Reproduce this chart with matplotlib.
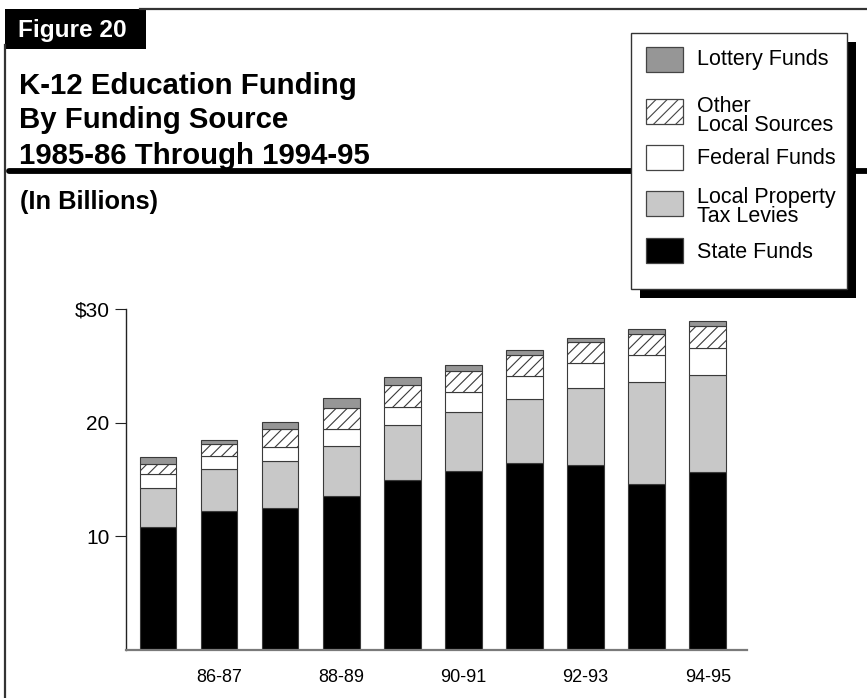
import numpy as np
import matplotlib
matplotlib.use("Agg")
import matplotlib.pyplot as plt
from matplotlib.patches import Rectangle
from matplotlib.lines import Line2D

plt.rcParams['font.family'] = ['Liberation Sans', 'DejaVu Sans']
plt.rcParams['hatch.linewidth'] = 0.8
plt.rcParams['hatch.color'] = '#202020'

# ---- data (billions of dollars) ----
years = ["85-86", "86-87", "87-88", "88-89", "89-90",
         "90-91", "91-92", "92-93", "93-94", "94-95"]
state_funds = [10.8, 12.2, 12.5, 13.6, 15.0, 15.8, 16.5, 16.3, 14.6, 15.7]
property_tax = [3.5, 3.7, 4.1, 4.4, 4.8, 5.2, 5.6, 6.8, 9.0, 8.5]
federal_funds = [1.2, 1.2, 1.3, 1.5, 1.6, 1.7, 2.0, 2.2, 2.4, 2.4]
other_local = [0.9, 1.0, 1.6, 1.8, 1.9, 1.9, 1.9, 1.8, 1.8, 1.9]
lottery_funds = [0.6, 0.4, 0.6, 0.9, 0.7, 0.5, 0.4, 0.4, 0.5, 0.5]

series_names = ["State Funds", "Local Property\nTax Levies", "Federal Funds",
                "Other\nLocal Sources", "Lottery Funds"]
series_values = [state_funds, property_tax, federal_funds, other_local, lottery_funds]
series_colors = ["#000000", "#c8c8c8", "#ffffff", "#ffffff", "#969696"]
series_hatch = [None, None, None, "///", None]

yticks = [10, 20, 30]
ytick_labels = ["10", "20", "$30"]
title_lines = ["K-12 Education Funding", "By Funding Source", "1985-86 Through 1994-95"]
figure_label = "Figure 20"
subtitle = "(In Billions)"

W, H = 867, 698
fig = plt.figure(figsize=(W / 100, H / 100), dpi=100)
fig.patch.set_facecolor("white")

# ---- chart axes ----
ax_l, ax_r, ax_b, ax_t = 126, 747, 650, 309.3
ax = fig.add_axes([ax_l / W, (H - ax_b) / H, (ax_r - ax_l) / W, (ax_b - ax_t) / H])
ax.set_facecolor("none")
x = np.arange(len(years))
bottom = np.zeros(len(years))
for vals, col, hat in zip(series_values, series_colors, series_hatch):
    ax.bar(x, vals, width=0.6, bottom=bottom, color=col, edgecolor="#3a3a3a",
           linewidth=0.8, hatch=hat, zorder=2)
    bottom += np.array(vals)

ax.set_xlim(-0.524, 9.643)
ax.set_ylim(0, 30)
ax.set_yticks(yticks)
ax.set_yticklabels(ytick_labels, fontsize=15)
ax.set_xticks(x)
ax.set_xticklabels([y if i % 2 == 1 else "" for i, y in enumerate(years)], fontsize=13)
ax.tick_params(axis="x", length=0, pad=14)
ax.tick_params(axis="y", length=8, width=0.8, pad=4, color="#222222")
for s in ["top", "right"]:
    ax.spines[s].set_visible(False)
ax.spines["left"].set_color("#222222")
ax.spines["left"].set_linewidth(1.0)
ax.spines["bottom"].set_color("#7a7a7a")
ax.spines["bottom"].set_linewidth(1.6)

# ---- overlay for frame, titles, legend ----
ov = fig.add_axes([0, 0, 1, 1])
ov.set_xlim(0, W)
ov.set_ylim(H, 0)
ov.axis("off")
ov.set_zorder(3)
ov.patch.set_visible(False)

# frame
ov.add_line(Line2D([5, 5], [45, H], color="#333333", lw=1.6))
ov.add_line(Line2D([140, W], [9, 9], color="#333333", lw=1.6))
ov.add_patch(Rectangle((5, 9), 141, 40, facecolor="black", edgecolor="none"))
ov.text(18, 30, figure_label, color="white", fontsize=17.6, fontweight="bold",
        va="center", ha="left")

# title
for i, line in enumerate(title_lines):
    ov.text(19, 93.5 + 35 * i, line, fontsize=21.2, fontweight="bold",
            va="baseline", ha="left")

# thick separator
ov.add_line(Line2D([9, W + 10], [171, 171], color="black", lw=4.2,
                   solid_capstyle="round"))
ov.text(20, 208.5, subtitle, fontsize=18.3, fontweight="bold", va="baseline", ha="left")

# legend with drop shadow
lx0, ly0, lx1, ly1 = 630.7, 33.3, 847.3, 289.3
ov.add_patch(Rectangle((lx0 + 9, ly0 + 9), lx1 - lx0, ly1 - ly0,
                       facecolor="black", edgecolor="none", zorder=4))
ov.add_patch(Rectangle((lx0, ly0), lx1 - lx0, ly1 - ly0,
                       facecolor="white", edgecolor="#333333", lw=1.0, zorder=5))
swatch_tops = [238.3, 191, 145, 98.7, 46.7]
text_centers = [252, 207, 159, 116, 60]
for name, col, hat, st, tc in zip(series_names, series_colors, series_hatch,
                                  swatch_tops, text_centers):
    ov.add_patch(Rectangle((646, st), 37, 25, facecolor=col, edgecolor="#444444",
                           lw=0.9, hatch=hat, zorder=6))
    ov.text(697, tc, name, fontsize=15.5, va="center", ha="left",
            linespacing=0.88, zorder=7)

fig.savefig("out.png", dpi=100)
